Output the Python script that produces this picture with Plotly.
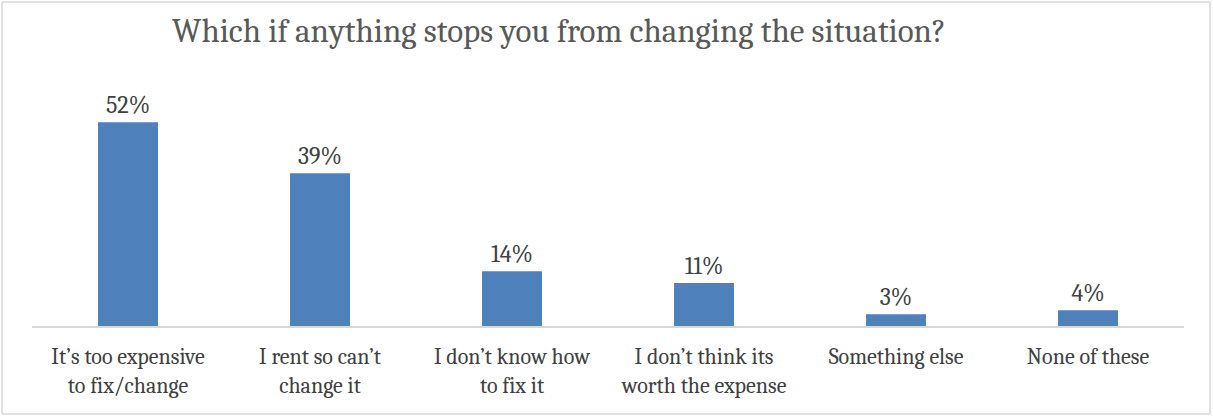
import plotly.graph_objects as go

categories = ["It’s too expensive<br>to fix/change", "I rent so can’t<br>change it",
              "I don’t know how<br>to fix it", "I don’t think its<br>worth the expense",
              "Something else", "None of these"]
values = [0.52, 0.39, 0.14, 0.11, 0.03, 0.04]
labels = ["52%", "39%", "14%", "11%", "3%", "4%"]
title = "Which if anything stops you from changing the situation?"

FONT = "Cambria, Caladea, 'Liberation Serif', serif"

fig = go.Figure(go.Bar(
    x=categories, y=values, text=labels, textposition="outside",
    marker=dict(color="#4F81BD", line=dict(width=0)),
    textfont=dict(family=FONT, size=24, color="#404040"),
    cliponaxis=False, width=0.3125, hoverinfo="skip",
))
fig.update_layout(
    width=1213, height=416,
    margin=dict(l=32, r=29, t=91, b=90),
    paper_bgcolor="white", plot_bgcolor="white",
    title=dict(text=title, x=559/1213, xanchor="center", y=1-30/416, yanchor="middle",
               font=dict(family=FONT, size=33, color="#595959")),
    showlegend=False,
    xaxis=dict(showline=True, linecolor="#d9d9d9", linewidth=1.5, ticks="",
               ticklabelstandoff=10,
               tickfont=dict(family=FONT, size=22, color="#404040")),
    yaxis=dict(range=[0, 0.6], visible=False, showgrid=False),
    shapes=[dict(type="rect", xref="paper", yref="paper", x0=-30/1152, x1=1+26/1152,
                 y0=-88/235, y1=1+89/235, line=dict(color="#d9d9d9", width=1.5))],
)
fig.write_html("out.html", config={"displayModeBar": False},
               post_script="document.body.style.margin='0';")
